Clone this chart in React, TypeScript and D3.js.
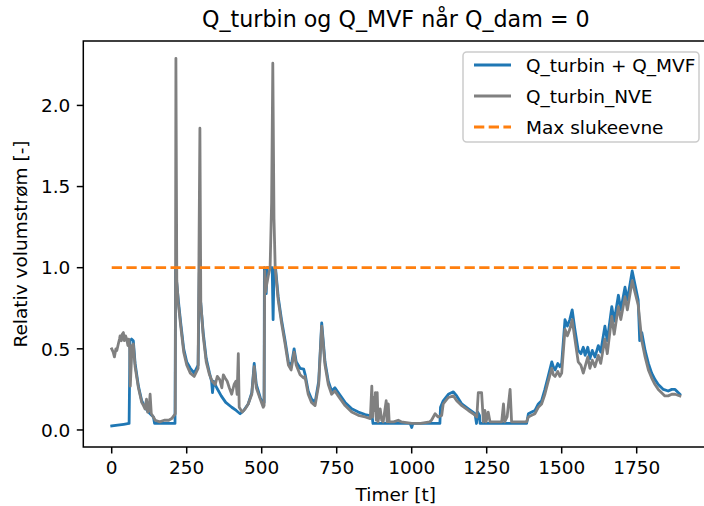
import React from "react";
import * as d3 from "d3";

// ---- data ----
const title = "Q_turbin og Q_MVF når Q_dam = 0";
const xLabel = "Timer [t]";
const yLabel = "Relativ volumstrøm [-]";
const seriesNames = ["Q_turbin + Q_MVF", "Q_turbin_NVE", "Max slukeevne"];
const xTicks = [0, 250, 500, 750, 1000, 1250, 1500, 1750];
const yTicks = [0.0, 0.5, 1.0, 1.5, 2.0];

const turbinMvf: [number, number][] = [
  [0, 0.025], [20, 0.03], [40, 0.035], [58, 0.04], [61, 0.55], [66, 0.56], [72, 0.55], [78, 0.41],
  [89, 0.27], [100, 0.18], [111, 0.14], [122, 0.11], [139, 0.08], [143, 0.04], [211, 0.04],
  [213, 1.0], [216, 0.92], [222, 0.8], [230, 0.66], [240, 0.5], [250, 0.42], [262, 0.38],
  [275, 0.35], [288, 0.4], [292, 0.97], [296, 0.8], [305, 0.6], [315, 0.44], [326, 0.35],
  [333, 0.3], [336, 0.23], [340, 0.3], [350, 0.26], [365, 0.21], [380, 0.17], [400, 0.14],
  [415, 0.12], [428, 0.1], [440, 0.12], [455, 0.16], [467, 0.23], [475, 0.41], [482, 0.28],
  [495, 0.2], [505, 0.16], [508, 0.17], [509, 1.0], [513, 0.98], [515, 0.84], [518, 1.0],
  [535, 1.0], [538, 0.68], [541, 0.98], [546, 1.0], [550, 0.92], [555, 0.82], [566, 0.68],
  [578, 0.55], [589, 0.42], [598, 0.39], [608, 0.5], [615, 0.42], [628, 0.38], [640, 0.375],
  [645, 0.34], [655, 0.24], [666, 0.19], [678, 0.17], [690, 0.3], [700, 0.66], [705, 0.55],
  [711, 0.42], [722, 0.3], [733, 0.24], [744, 0.26], [755, 0.23], [778, 0.17], [800, 0.13],
  [822, 0.11], [845, 0.095], [868, 0.085], [871, 0.04], [995, 0.04], [1000, 0.015], [1004, 0.04],
  [1094, 0.04], [1096, 0.14], [1105, 0.18], [1122, 0.22], [1139, 0.235], [1150, 0.21],
  [1167, 0.16], [1189, 0.13], [1211, 0.1], [1216, 0.04], [1220, 0.11], [1226, 0.09], [1228, 0.04],
  [1383, 0.04], [1389, 0.1], [1400, 0.11], [1411, 0.12], [1422, 0.16], [1433, 0.18], [1444, 0.25],
  [1455, 0.33], [1467, 0.42], [1472, 0.39], [1478, 0.37], [1487, 0.41], [1494, 0.39], [1500, 0.41],
  [1511, 0.68], [1519, 0.64], [1527, 0.68], [1535, 0.74], [1544, 0.62], [1555, 0.49], [1564, 0.47],
  [1572, 0.51], [1578, 0.46], [1587, 0.51], [1594, 0.44], [1602, 0.49], [1611, 0.45], [1622, 0.52],
  [1630, 0.48], [1644, 0.64], [1652, 0.55], [1667, 0.76], [1675, 0.67], [1689, 0.83], [1697, 0.74],
  [1711, 0.88], [1719, 0.8], [1735, 0.98], [1744, 0.9], [1755, 0.8], [1760, 0.55], [1767, 0.6],
  [1778, 0.49], [1789, 0.41], [1800, 0.35], [1811, 0.31], [1822, 0.28], [1839, 0.25], [1855, 0.24],
  [1867, 0.25], [1878, 0.25], [1894, 0.22],
];

const turbinNve: [number, number][] = [
  [0, 0.5], [5, 0.48], [9, 0.45], [14, 0.5], [17, 0.49], [22, 0.53], [26, 0.56], [28, 0.58],
  [32, 0.55], [35, 0.59], [39, 0.6], [42, 0.55], [46, 0.58], [50, 0.56], [54, 0.52], [57, 0.56],
  [60, 0.5], [62, 0.27], [65, 0.4], [68, 0.52], [72, 0.53], [78, 0.39], [89, 0.26], [100, 0.17],
  [106, 0.15], [111, 0.13], [116, 0.19], [120, 0.11], [124, 0.12], [128, 0.22], [132, 0.1],
  [139, 0.08], [145, 0.06], [160, 0.05], [175, 0.06], [190, 0.06], [200, 0.07], [208, 0.09],
  [212, 0.1], [214, 2.29], [217, 0.92], [222, 0.78], [230, 0.64], [240, 0.48], [250, 0.4],
  [262, 0.35], [275, 0.33], [288, 0.38], [294, 1.86], [297, 0.78], [305, 0.58], [315, 0.42],
  [326, 0.34], [335, 0.3], [345, 0.28], [352, 0.33], [360, 0.31], [367, 0.26], [372, 0.34],
  [378, 0.32], [385, 0.3], [392, 0.26], [400, 0.22], [408, 0.28], [414, 0.3], [418, 0.22],
  [422, 0.47], [425, 0.14], [435, 0.11], [445, 0.13], [455, 0.16], [467, 0.22], [475, 0.39],
  [482, 0.26], [495, 0.19], [505, 0.14], [508, 0.15], [510, 0.98], [513, 0.85], [517, 0.9],
  [522, 0.95], [528, 1.0], [533, 1.4], [537, 2.26], [541, 1.3], [545, 1.0], [550, 0.9],
  [555, 0.8], [566, 0.66], [578, 0.53], [589, 0.4], [598, 0.37], [608, 0.48], [615, 0.4],
  [628, 0.34], [640, 0.32], [644, 0.33], [655, 0.22], [666, 0.17], [678, 0.15], [690, 0.28],
  [700, 0.64], [705, 0.53], [711, 0.4], [722, 0.28], [733, 0.22], [744, 0.24], [755, 0.21],
  [778, 0.15], [800, 0.11], [822, 0.09], [845, 0.08], [862, 0.07], [867, 0.27], [870, 0.08],
  [873, 0.2], [876, 0.12], [879, 0.23], [882, 0.06], [885, 0.23], [888, 0.05], [895, 0.13],
  [900, 0.06], [905, 0.05], [915, 0.18], [918, 0.05], [922, 0.16], [925, 0.05], [940, 0.05],
  [955, 0.06], [965, 0.05], [1000, 0.04], [1030, 0.04], [1060, 0.05], [1066, 0.06], [1078, 0.1],
  [1088, 0.08], [1100, 0.09], [1105, 0.16], [1122, 0.2], [1139, 0.21], [1150, 0.18], [1167, 0.15],
  [1189, 0.12], [1205, 0.1], [1217, 0.08], [1222, 0.23], [1233, 0.23], [1239, 0.05], [1244, 0.12],
  [1248, 0.05], [1255, 0.11], [1261, 0.05], [1300, 0.05], [1306, 0.16], [1310, 0.05], [1318, 0.08],
  [1328, 0.25], [1333, 0.05], [1383, 0.05], [1389, 0.08], [1400, 0.09], [1411, 0.1], [1422, 0.14],
  [1433, 0.16], [1444, 0.22], [1455, 0.3], [1467, 0.38], [1472, 0.34], [1478, 0.33], [1487, 0.36],
  [1494, 0.33], [1500, 0.35], [1511, 0.62], [1519, 0.58], [1527, 0.62], [1535, 0.68], [1544, 0.56],
  [1555, 0.42], [1564, 0.4], [1572, 0.35], [1578, 0.39], [1587, 0.45], [1594, 0.38], [1602, 0.43],
  [1611, 0.39], [1622, 0.46], [1630, 0.41], [1644, 0.56], [1652, 0.47], [1667, 0.7], [1675, 0.59],
  [1689, 0.76], [1697, 0.68], [1711, 0.82], [1719, 0.74], [1735, 0.92], [1744, 0.85], [1755, 0.77],
  [1767, 0.55], [1778, 0.45], [1789, 0.37], [1800, 0.32], [1811, 0.28], [1822, 0.25], [1833, 0.23],
  [1844, 0.21], [1855, 0.21], [1867, 0.22], [1878, 0.22], [1894, 0.21],
];

const maxCapacity: [number, number][] = [[0, 1.0], [1894, 1.0]];

const colors = ["#1f77b4", "#808080", "#ff7f0e"];

export default function App() {
  const W = 704, H = 506;
  const left = 83.3, right = 708.3, top = 41, bottom = 447;
  const x = d3.scaleLinear().domain([-94.7, 1988.7]).range([left, right]);
  const y = d3.scaleLinear().domain([-0.105, 2.397]).range([bottom, top]);
  const line = d3.line<[number, number]>().x(d => x(d[0])).y(d => y(d[1]));
  const font = "'DejaVu Sans', sans-serif";
  const fs = 18.5;
  const tickLen = 6.5;

  const legendRows = [
    { name: seriesNames[0], color: colors[0], dash: undefined },
    { name: seriesNames[1], color: colors[1], dash: undefined },
    { name: seriesNames[2], color: colors[2], dash: "10.3,4.4" },
  ];

  return (
    <svg width={W} height={H} style={{ position: "absolute", left: 0, top: 0, background: "#fff" }} fontFamily={font}>
      <rect x={0} y={0} width={W} height={H} fill="#fff" />
      <defs>
        <clipPath id="plotclip">
          <rect x={left} y={top} width={right - left} height={bottom - top} />
        </clipPath>
      </defs>
      <text x={(left + right) / 2} y={27} textAnchor="middle" fontSize={22.2} fill="#000">{title}</text>

      <g clipPath="url(#plotclip)">
        <path d={line(turbinMvf) || ""} fill="none" stroke={colors[0]} strokeWidth={2.8} strokeLinejoin="round" strokeLinecap="square" />
        <path d={line(turbinNve) || ""} fill="none" stroke={colors[1]} strokeWidth={2.8} strokeLinejoin="round" strokeLinecap="square" />
        <path d={line(maxCapacity) || ""} fill="none" stroke={colors[2]} strokeWidth={2.8} strokeDasharray="10.3,4.4" />
      </g>

      {/* spines */}
      <rect x={left} y={top} width={right - left} height={bottom - top} fill="none" stroke="#000" strokeWidth={1.5} />

      {/* x ticks */}
      {xTicks.map(t => (
        <g key={"x" + t}>
          <line x1={x(t)} x2={x(t)} y1={bottom} y2={bottom + tickLen} stroke="#000" strokeWidth={1.5} />
          <text x={x(t)} y={bottom + tickLen + 6.5 + 14} textAnchor="middle" fontSize={fs} fill="#000">{t}</text>
        </g>
      ))}
      {/* y ticks */}
      {yTicks.map(v => (
        <g key={"y" + v}>
          <line x1={left - tickLen} x2={left} y1={y(v)} y2={y(v)} stroke="#000" strokeWidth={1.5} />
          <text x={left - tickLen - 6.5} y={y(v) + 6.8} textAnchor="end" fontSize={fs} fill="#000">{v.toFixed(1)}</text>
        </g>
      ))}

      <text x={(left + right) / 2} y={501} textAnchor="middle" fontSize={fs} fill="#000">{xLabel}</text>
      <text transform={`translate(27, ${(top + bottom) / 2}) rotate(-90)`} textAnchor="middle" fontSize={fs} fill="#000">{yLabel}</text>

      {/* legend */}
      <g>
        <rect x={463} y={52} width={236} height={90} rx={3.7} fill="#fff" fillOpacity={0.8} stroke="#cccccc" strokeWidth={1.5} />
        {legendRows.map((r, i) => {
          const cy = 65 + i * 31;
          return (
            <g key={r.name}>
              <line x1={474} x2={511} y1={cy} y2={cy} stroke={r.color} strokeWidth={2.8} strokeDasharray={r.dash} />
              <text x={526} y={cy + 6.8} fontSize={fs} fill="#000">{r.name}</text>
            </g>
          );
        })}
      </g>
    </svg>
  );
}
